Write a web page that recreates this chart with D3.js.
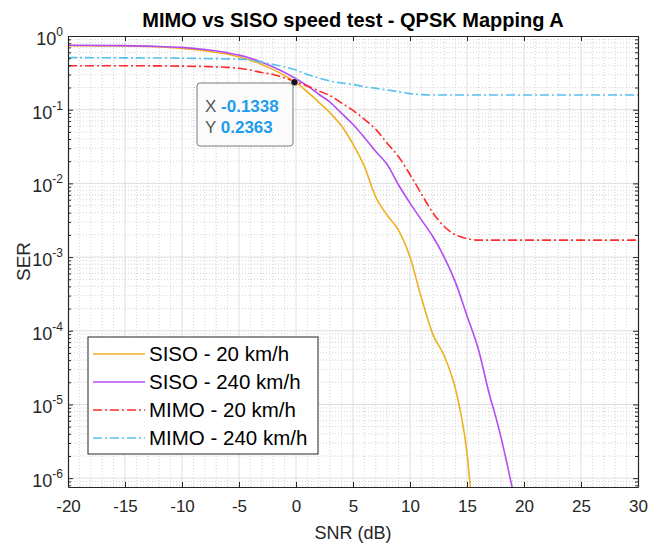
<!DOCTYPE html>
<html>
<head>
<meta charset="utf-8">
<script src="https://cdn.jsdelivr.net/npm/d3@7"></script>
<style>
  body { margin: 0; background: #fff; }
  svg { font-family: "Liberation Sans", Arial, sans-serif; }
</style>
</head>
<body>
<svg id="chart" width="670" height="545"></svg>
<script>
// series data (SNR in dB, SER)
var siso20Snr = [-20, -15, -12, -10, -8, -6, -5, -4, -3, -2, -1, 0, 1, 2, 3, 4, 5, 6, 7, 8, 9, 10, 11, 12, 13, 14, 14.5, 15, 15.4];
var siso20Ser = [0.74, 0.73, 0.71, 0.68, 0.63, 0.565, 0.52, 0.47, 0.41, 0.35, 0.29, 0.235, 0.174, 0.126, 0.09, 0.06, 0.034, 0.017, 0.0065, 0.0037, 0.0023, 0.001, 0.00028, 9e-5, 4.6e-5, 1.6e-5, 7e-6, 2.2e-6, 5e-7];

var siso240Snr = [-20, -15, -12, -10, -8, -6, -5, -4, -3, -2, -1, 0, 1, 2, 3, 4, 5, 6, 7, 8, 9, 10, 11, 12, 13, 14, 15, 16, 17, 17.5, 18, 18.5, 19];
var siso240Ser = [0.75, 0.74, 0.72, 0.70, 0.655, 0.59, 0.55, 0.50, 0.44, 0.38, 0.32, 0.263, 0.21, 0.162, 0.126, 0.089, 0.063, 0.042, 0.027, 0.018, 0.0095, 0.0054, 0.0032, 0.0019, 0.001, 4.5e-4, 1.6e-4, 5.6e-5, 1.3e-5, 7e-6, 3.5e-6, 1.6e-6, 7e-7];

var mimo20Snr = [-20, -15, -10, -8, -6, -5, -4, -3, -2, -1, 0, 1, 2, 3, 4, 5, 6, 7, 8, 9, 10, 11, 12, 13, 14, 15, 16, 20, 25, 30];
var mimo20Ser = [0.395, 0.395, 0.39, 0.385, 0.375, 0.365, 0.345, 0.32, 0.30, 0.27, 0.237, 0.209, 0.18, 0.155, 0.123, 0.098, 0.074, 0.054, 0.035, 0.023, 0.0132, 0.0072, 0.004, 0.0026, 0.002, 0.00178, 0.0017, 0.0017, 0.0017, 0.0017];

var mimo240Snr = [-20, -15, -10, -8, -6, -5, -4, -3, -2, -1, 0, 1, 2, 3, 4, 5, 6, 7, 8, 9, 10, 11, 12, 15, 20, 25, 30];
var mimo240Ser = [0.51, 0.505, 0.50, 0.495, 0.49, 0.485, 0.47, 0.44, 0.41, 0.38, 0.345, 0.30, 0.27, 0.245, 0.23, 0.22, 0.205, 0.195, 0.185, 0.175, 0.165, 0.16, 0.158, 0.158, 0.158, 0.158, 0.158];

var seriesNames = ["SISO - 20 km/h", "SISO - 240 km/h", "MIMO - 20 km/h", "MIMO - 240 km/h"];
var xTicks = [-20, -15, -10, -5, 0, 5, 10, 15, 20, 25, 30];
var yExponents = [0, -1, -2, -3, -4, -5, -6];
var tipPoint = [-0.1338, 0.2363];

var series = [
  { name: seriesNames[0], x: siso20Snr, y: siso20Ser, color: "#EDB120", dash: null },
  { name: seriesNames[1], x: siso240Snr, y: siso240Ser, color: "#B44CF5", dash: null },
  { name: seriesNames[2], x: mimo20Snr, y: mimo20Ser, color: "#FF2A2A", dash: "9,3,2,3" },
  { name: seriesNames[3], x: mimo240Snr, y: mimo240Ser, color: "#56C1EE", dash: "9,3,2,3" }
];

var pL = 68, pR = 638, pT = 36, pB = 487;

var svg = d3.select("#chart");

var x = d3.scaleLinear().domain([-20, 30]).range([pL, pR]);
var y = d3.scaleLog().domain([Math.pow(10, -6.12), 1]).range([pB, pT]);

// grid
var minorX = d3.range(-20, 31, 1).filter(function(d) { return d % 5 !== 0; });
var minorY = [];
for (var e = -7; e < 0; e++) {
  for (var k = 2; k < 10; k++) {
    var v = k * Math.pow(10, e);
    if (v > y.domain()[0] && v < 1) minorY.push(v);
  }
}

var grid = svg.append("g");
grid.selectAll(".mx").data(minorX).enter().append("line")
  .attr("x1", function(d) { return x(d); }).attr("x2", function(d) { return x(d); })
  .attr("y1", pT).attr("y2", pB)
  .attr("stroke", "#c8c8c8").attr("stroke-width", 0.8).attr("stroke-dasharray", "1,2");
grid.selectAll(".my").data(minorY).enter().append("line")
  .attr("x1", pL).attr("x2", pR)
  .attr("y1", function(d) { return y(d); }).attr("y2", function(d) { return y(d); })
  .attr("stroke", "#c8c8c8").attr("stroke-width", 0.8).attr("stroke-dasharray", "1,2");
grid.selectAll(".gx").data(xTicks.slice(1, -1)).enter().append("line")
  .attr("x1", function(d) { return x(d); }).attr("x2", function(d) { return x(d); })
  .attr("y1", pT).attr("y2", pB)
  .attr("stroke", "#dedede").attr("stroke-width", 1);
grid.selectAll(".gy").data(yExponents.slice(1)).enter().append("line")
  .attr("x1", pL).attr("x2", pR)
  .attr("y1", function(d) { return y(Math.pow(10, d)); }).attr("y2", function(d) { return y(Math.pow(10, d)); })
  .attr("stroke", "#dedede").attr("stroke-width", 1);

// curves
svg.append("clipPath").attr("id", "clip").append("rect")
  .attr("x", pL).attr("y", pT).attr("width", pR - pL).attr("height", pB - pT);

var line = d3.line()
  .curve(d3.curveMonotoneX)
  .x(function(d) { return x(d[0]); })
  .y(function(d) { return y(d[1]); });

svg.append("g").attr("clip-path", "url(#clip)")
  .selectAll("path").data(series).enter().append("path")
  .attr("d", function(s) { return line(d3.zip(s.x, s.y)); })
  .attr("fill", "none")
  .attr("stroke", function(s) { return s.color; })
  .attr("stroke-width", 1.6)
  .attr("stroke-dasharray", function(s) { return s.dash; });

// axes (ticks inside, mirrored)
var axisColor = "#262626";
var xB = d3.axisBottom(x).tickValues(xTicks).tickSizeInner(-5).tickSizeOuter(0).tickPadding(13)
  .tickFormat(function(d) { return d; });
var gxb = svg.append("g").attr("transform", "translate(0," + pB + ")").call(xB);
gxb.selectAll("text").attr("font-size", 17).attr("fill", "#262626").attr("font-family", "Liberation Sans, Arial");
gxb.select(".domain").attr("stroke", axisColor).attr("stroke-width", 1.2);
gxb.selectAll("line").attr("stroke", axisColor);

var xT = d3.axisTop(x).tickValues(xTicks).tickSizeInner(-5).tickSizeOuter(0).tickFormat("");
var gxt = svg.append("g").attr("transform", "translate(0," + pT + ")").call(xT);
gxt.select(".domain").attr("stroke", axisColor).attr("stroke-width", 1.2);
gxt.selectAll("line").attr("stroke", axisColor);

var yMajor = yExponents.map(function(d) { return Math.pow(10, d); });
var yL = d3.axisLeft(y).tickValues(yMajor).tickSizeInner(-5).tickSizeOuter(0).tickFormat("");
var gyl = svg.append("g").attr("transform", "translate(" + pL + ",0)").call(yL);
gyl.select(".domain").attr("stroke", axisColor).attr("stroke-width", 1.2);
gyl.selectAll("line").attr("stroke", axisColor);
var yLm = d3.axisLeft(y).tickValues(minorY).tickSizeInner(-3).tickSizeOuter(0).tickFormat("");
var gylm = svg.append("g").attr("transform", "translate(" + pL + ",0)").call(yLm);
gylm.select(".domain").remove();
gylm.selectAll("line").attr("stroke", axisColor);

var yR = d3.axisRight(y).tickValues(yMajor).tickSizeInner(-5).tickSizeOuter(0).tickFormat("");
var gyr = svg.append("g").attr("transform", "translate(" + pR + ",0)").call(yR);
gyr.select(".domain").attr("stroke", axisColor).attr("stroke-width", 1.2);
gyr.selectAll("line").attr("stroke", axisColor);
var yRm = d3.axisRight(y).tickValues(minorY).tickSizeInner(-3).tickSizeOuter(0).tickFormat("");
var gyrm = svg.append("g").attr("transform", "translate(" + pR + ",0)").call(yRm);
gyrm.select(".domain").remove();
gyrm.selectAll("line").attr("stroke", axisColor);

// y tick labels 10^n
var ylab = svg.append("g").selectAll("text").data(yExponents).enter().append("text")
  .attr("x", pL - 5)
  .attr("y", function(d) { return y(Math.pow(10, d)) + 9; })
  .attr("text-anchor", "end")
  .attr("font-size", 18)
  .attr("fill", "#262626");
ylab.append("tspan").text("10");
ylab.append("tspan").attr("dy", -9).attr("font-size", 12).text(function(d) { return d; });

// titles
svg.append("text").attr("x", (pL + pR) / 2).attr("y", 27)
  .attr("text-anchor", "middle").attr("font-size", 20).attr("font-weight", "bold")
  .attr("fill", "#000").text("MIMO vs SISO speed test - QPSK Mapping A");
svg.append("text").attr("x", (pL + pR) / 2).attr("y", 539)
  .attr("text-anchor", "middle").attr("font-size", 18).attr("fill", "#262626").text("SNR (dB)");
svg.append("text").attr("transform", "translate(30," + (pT + pB) / 2 + ") rotate(-90)")
  .attr("text-anchor", "middle").attr("font-size", 19).attr("fill", "#262626").text("SER");

// legend
var lg = svg.append("g").attr("transform", "translate(88,337)");
lg.append("rect").attr("width", 230).attr("height", 117)
  .attr("fill", "#fff").attr("stroke", "#262626").attr("stroke-width", 1);
var rows = lg.selectAll(".row").data(series).enter().append("g")
  .attr("transform", function(d, i) { return "translate(0," + (17 + i * 28) + ")"; });
rows.append("line").attr("x1", 5).attr("x2", 57).attr("y1", 0).attr("y2", 0)
  .attr("stroke", function(s) { return s.color; }).attr("stroke-width", 1.6)
  .attr("stroke-dasharray", function(s) { return s.dash; });
rows.append("text").attr("x", 61).attr("y", 7).attr("font-size", 20.5).attr("fill", "#000")
  .text(function(s) { return s.name; });

// data tip
var tip = svg.append("g");
tip.append("rect").attr("x", 197).attr("y", 83).attr("width", 96).attr("height", 63)
  .attr("rx", 3).attr("fill", "#fbfbfb").attr("stroke", "#7a7a7a").attr("stroke-width", 1);
var tipRows = [["X", tipPoint[0].toFixed(4)], ["Y", tipPoint[1].toFixed(4)]];
var tr = tip.selectAll(".tr").data(tipRows).enter().append("text")
  .attr("x", 205).attr("y", function(d, i) { return 112 + i * 21; }).attr("font-size", 17);
tr.append("tspan").attr("fill", "#555").text(function(d) { return d[0] + " "; });
tr.append("tspan").attr("fill", "#1E9CEF").attr("font-weight", "bold").text(function(d) { return d[1]; });
tip.append("circle").attr("cx", x(tipPoint[0])).attr("cy", y(tipPoint[1])).attr("r", 3.5)
  .attr("fill", "#111").attr("stroke", "#fff").attr("stroke-width", 0.5);
</script>
</body>
</html>
